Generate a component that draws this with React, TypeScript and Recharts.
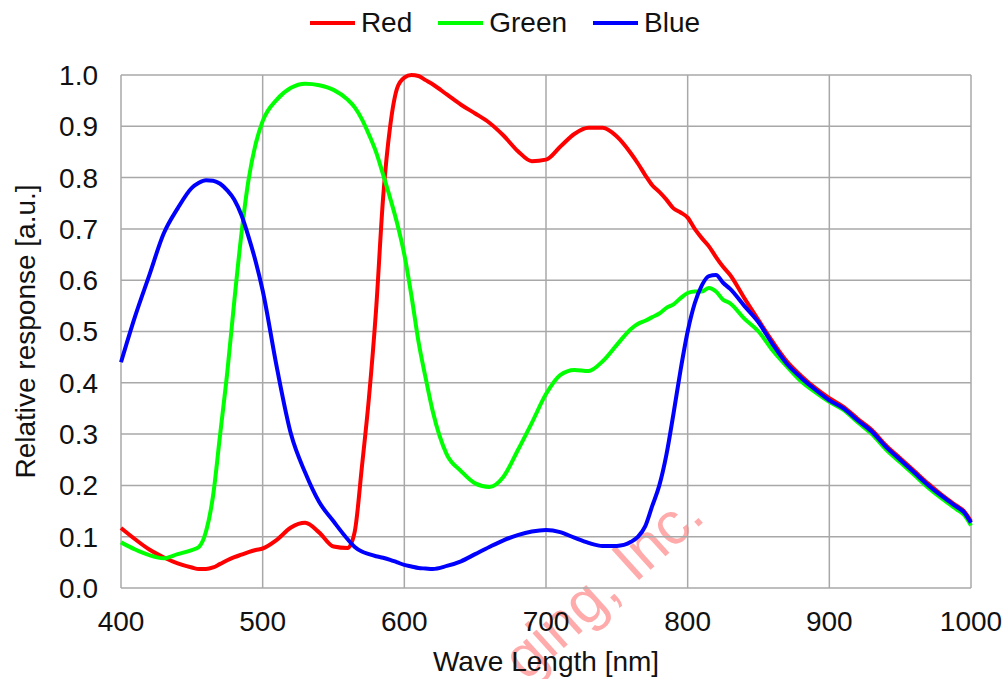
import { CartesianGrid, Label, Line, LineChart, XAxis, YAxis } from "recharts";

const wavelengths = [
  400, 410, 420, 430, 440, 450,
  455, 460, 465, 470, 475, 480, 485, 490, 495, 500,
  510, 520, 530, 540, 550, 560,
  565, 570, 575, 580, 585, 590, 595, 600, 605, 610, 615, 620,
  630, 640, 650, 660, 670, 680, 690, 700, 710, 720, 730, 740, 750, 760,
  765, 770, 775, 780, 785, 790, 795, 800, 805, 810, 815, 820, 825, 830,
  840, 850, 860, 870, 880, 890, 900,
  910, 920, 930, 940, 950, 960, 970, 980, 990, 995, 1000
];

const redResponse = [
  0.117, 0.095, 0.075, 0.06, 0.048, 0.04,
  0.037, 0.037, 0.04, 0.047, 0.054, 0.06, 0.065, 0.07, 0.074, 0.077,
  0.094, 0.118, 0.127, 0.108, 0.081, 0.078,
  0.11, 0.235, 0.37, 0.54, 0.76, 0.9, 0.975, 0.995, 1.0, 0.998, 0.99, 0.982,
  0.962, 0.942, 0.925, 0.907, 0.882, 0.852, 0.832, 0.835, 0.86, 0.885, 0.897, 0.897, 0.88, 0.847,
  0.827, 0.805, 0.785, 0.772, 0.757, 0.74, 0.732, 0.722, 0.7, 0.682, 0.666, 0.645, 0.626, 0.61,
  0.565, 0.522, 0.48, 0.442, 0.414, 0.39, 0.37,
  0.353, 0.33, 0.308, 0.278, 0.253, 0.228, 0.203, 0.18, 0.16, 0.15, 0.13
];

const greenResponse = [
  0.089, 0.075, 0.064, 0.058, 0.066, 0.074,
  0.08, 0.11, 0.18, 0.3, 0.42, 0.56, 0.69, 0.795, 0.865, 0.91,
  0.952, 0.975, 0.983, 0.98, 0.971, 0.952,
  0.937, 0.914, 0.884, 0.85, 0.806, 0.76, 0.71, 0.65, 0.57, 0.48, 0.41, 0.345,
  0.26, 0.228, 0.204, 0.197, 0.217, 0.268, 0.322, 0.378, 0.415, 0.425, 0.423, 0.442, 0.474, 0.505,
  0.515, 0.521, 0.528, 0.535, 0.546, 0.553, 0.565, 0.575, 0.578, 0.578, 0.585, 0.578, 0.562, 0.555,
  0.525, 0.5, 0.463, 0.432, 0.403, 0.382, 0.363,
  0.347, 0.323, 0.3, 0.27, 0.245, 0.22, 0.195, 0.173, 0.153, 0.143, 0.122
];

const blueResponse = [
  0.44, 0.53, 0.61, 0.69, 0.74, 0.78,
  0.79, 0.795, 0.794, 0.788, 0.775, 0.757, 0.727, 0.685, 0.637, 0.58,
  0.43, 0.3, 0.225, 0.167, 0.13, 0.095,
  0.08, 0.071, 0.066, 0.062, 0.059, 0.055, 0.05, 0.045, 0.042, 0.039, 0.038, 0.037,
  0.043, 0.052, 0.066, 0.08, 0.093, 0.103, 0.11, 0.113, 0.109, 0.098, 0.088, 0.082, 0.082, 0.09,
  0.1, 0.12, 0.16, 0.2, 0.26, 0.34, 0.425, 0.5, 0.555, 0.59, 0.608, 0.61, 0.595, 0.583,
  0.55, 0.518, 0.475, 0.437, 0.41, 0.387, 0.366,
  0.35, 0.327, 0.305, 0.275, 0.25, 0.225, 0.2, 0.178, 0.158, 0.148, 0.127
];

const xTicks = [400, 500, 600, 700, 800, 900, 1000];
const yTicks = [0, 0.1, 0.2, 0.3, 0.4, 0.5, 0.6, 0.7, 0.8, 0.9, 1.0];

const series = [
  { key: "red", name: "Red", color: "#ff0000" },
  { key: "green", name: "Green", color: "#00ff00" },
  { key: "blue", name: "Blue", color: "#0000ff" }
];

const data = wavelengths.map((nm, i) => ({
  nm,
  red: redResponse[i],
  green: greenResponse[i],
  blue: blueResponse[i]
}));

const font = "'Liberation Sans', Arial, sans-serif";

export default function App() {
  return (
    <div style={{ position: "absolute", left: 0, top: 0, width: 1006, height: 679, background: "#fff", fontFamily: font, overflow: "hidden" }}>
      {/* watermark, behind the chart */}
      <svg width={1006} height={679} style={{ position: "absolute", left: 0, top: 0, pointerEvents: "none" }}>
        <text
          x={707}
          y={519}
          textAnchor="end"
          transform="rotate(-42 707 519)"
          fontSize={60}
          fontFamily={font}
          fill="#ff9090"
          opacity={0.75}
        >
          ging, Inc.
        </text>
      </svg>

      <div style={{ position: "absolute", left: 0, top: 0 }}>
        <LineChart width={1006} height={679} data={data} margin={{ top: 75, right: 35, bottom: 0, left: 0 }}>
          <CartesianGrid stroke="#a8a8a8" strokeWidth={1.5} />
          <XAxis
            dataKey="nm"
            type="number"
            domain={[400, 1000]}
            ticks={xTicks}
            height={91}
            axisLine={false}
            tickLine={false}
            tickSize={0}
            tickMargin={23}
            tick={{ fontSize: 28, fill: "#111", fontFamily: font }}
          >
            <Label value="Wave Length [nm]" position="center" dy={28} style={{ fontSize: 28, fill: "#111", fontFamily: font }} />
          </XAxis>
          <YAxis
            type="number"
            domain={[0, 1]}
            ticks={yTicks}
            width={121}
            axisLine={false}
            tickLine={false}
            tickSize={0}
            tickMargin={23}
            tickFormatter={(v) => Number(v).toFixed(1)}
            tick={{ fontSize: 28, fill: "#111", fontFamily: font }}
          >
            <Label value="Relative response [a.u.]" angle={-90} position="center" dx={-35} style={{ fontSize: 28, fill: "#111", fontFamily: font, textAnchor: "middle" }} />
          </YAxis>
          {series.map((s) => (
            <Line key={s.key} type="monotone" dataKey={s.key} name={s.name} stroke={s.color} strokeWidth={4} dot={false} isAnimationActive={false} />
          ))}
        </LineChart>
      </div>

      {/* legend */}
      <div style={{ position: "absolute", top: 7, left: 0, width: 1010, display: "flex", justifyContent: "center", gap: 26, fontSize: 28, color: "#111" }}>
        {series.map((s) => (
          <div key={s.key} style={{ display: "flex", alignItems: "center" }}>
            <span style={{ display: "inline-block", width: 45, height: 4, background: s.color, marginRight: 6 }} />
            <span>{s.name}</span>
          </div>
        ))}
      </div>
    </div>
  );
}
